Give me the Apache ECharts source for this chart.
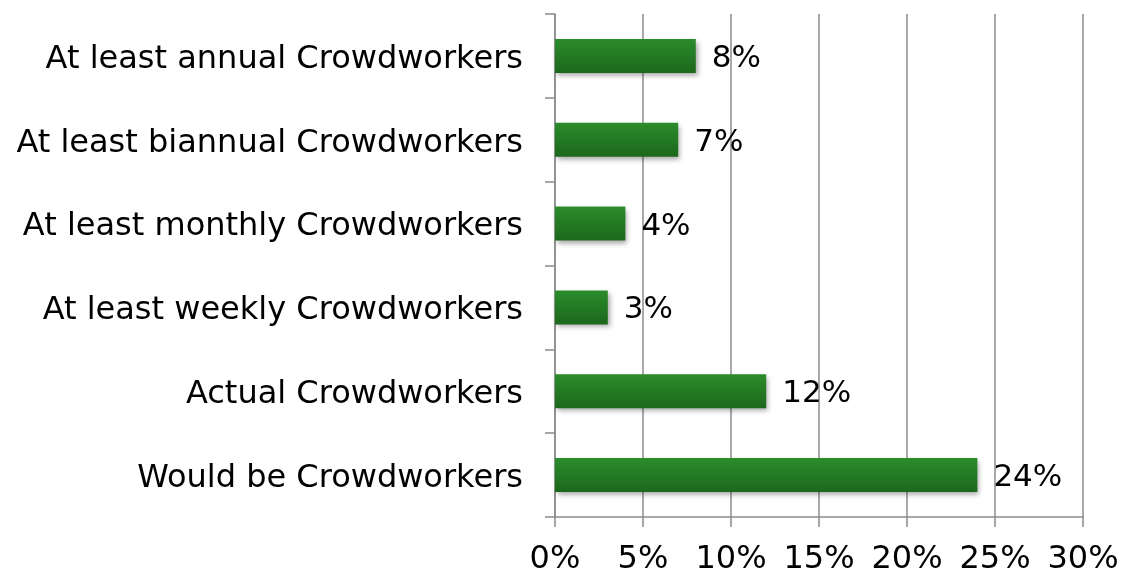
<!DOCTYPE html>
<html>
<head>
<meta charset="utf-8">
<script src="https://cdn.jsdelivr.net/npm/echarts@6/dist/echarts.min.js"></script>
<style>
  html, body { margin: 0; padding: 0; background: #fff; }
  #chart { width: 1122px; height: 573px; }
</style>
</head>
<body>
<div id="chart"></div>
<script>
// Categories listed bottom-to-top (category axis starts at the bottom)
const categories = [
  'Would be Crowdworkers',
  'Actual Crowdworkers',
  'At least weekly Crowdworkers',
  'At least monthly Crowdworkers',
  'At least biannual Crowdworkers',
  'At least annual Crowdworkers'
];
const shares = [24, 12, 3, 4, 7, 8];
const xTicks = [0, 5, 10, 15, 20, 25, 30];

const FONT = 'DejaVu Sans';
const chart = echarts.init(document.getElementById('chart'));

chart.setOption({
  animation: false,
  backgroundColor: '#ffffff',
  grid: {
    left: 555, right: 39, top: 14, bottom: 56,
    containLabel: false,
    outerBoundsMode: 'none'
  },
  xAxis: {
    type: 'value',
    min: xTicks[0],
    max: xTicks[xTicks.length - 1],
    interval: 5,
    axisLine: { show: true, lineStyle: { color: '#8c8c8c', width: 1.5 } },
    axisTick: { show: true, length: 10, lineStyle: { color: '#8c8c8c', width: 1.5 } },
    splitLine: { show: true, lineStyle: { color: '#8c8c8c', width: 1.5 } },
    axisLabel: {
      margin: 27,
      fontFamily: FONT,
      fontSize: 32,
      color: '#000',
      formatter: v => v + '%'
    }
  },
  yAxis: {
    type: 'category',
    data: categories,
    axisLine: { show: true, lineStyle: { color: '#8c8c8c', width: 1.5 } },
    axisTick: { show: true, length: 10, alignWithLabel: false, lineStyle: { color: '#8c8c8c', width: 1.5 } },
    splitLine: { show: false },
    axisLabel: {
      margin: 32,
      color: '#000',
      formatter: v => '{c|' + v + '}',
      rich: {
        c: {
          fontFamily: FONT,
          fontSize: 32,
          color: '#000',
          padding: [7, 0, 0, 0]
        }
      }
    }
  },
  series: [{
    type: 'bar',
    data: shares,
    barWidth: 34,
    itemStyle: {
      color: new echarts.graphic.LinearGradient(0, 0, 0, 1, [
        { offset: 0, color: '#2b8c2b' },
        { offset: 1, color: '#1c671c' }
      ]),
      shadowColor: 'rgba(0,0,0,0.35)',
      shadowBlur: 5,
      shadowOffsetX: 2,
      shadowOffsetY: 3
    },
    label: {
      show: true,
      position: 'right',
      distance: 16,
      offset: [0, 3],
      fontFamily: FONT,
      fontSize: 31,
      color: '#000',
      formatter: p => p.value + '%'
    }
  }]
});
</script>
</body>
</html>
